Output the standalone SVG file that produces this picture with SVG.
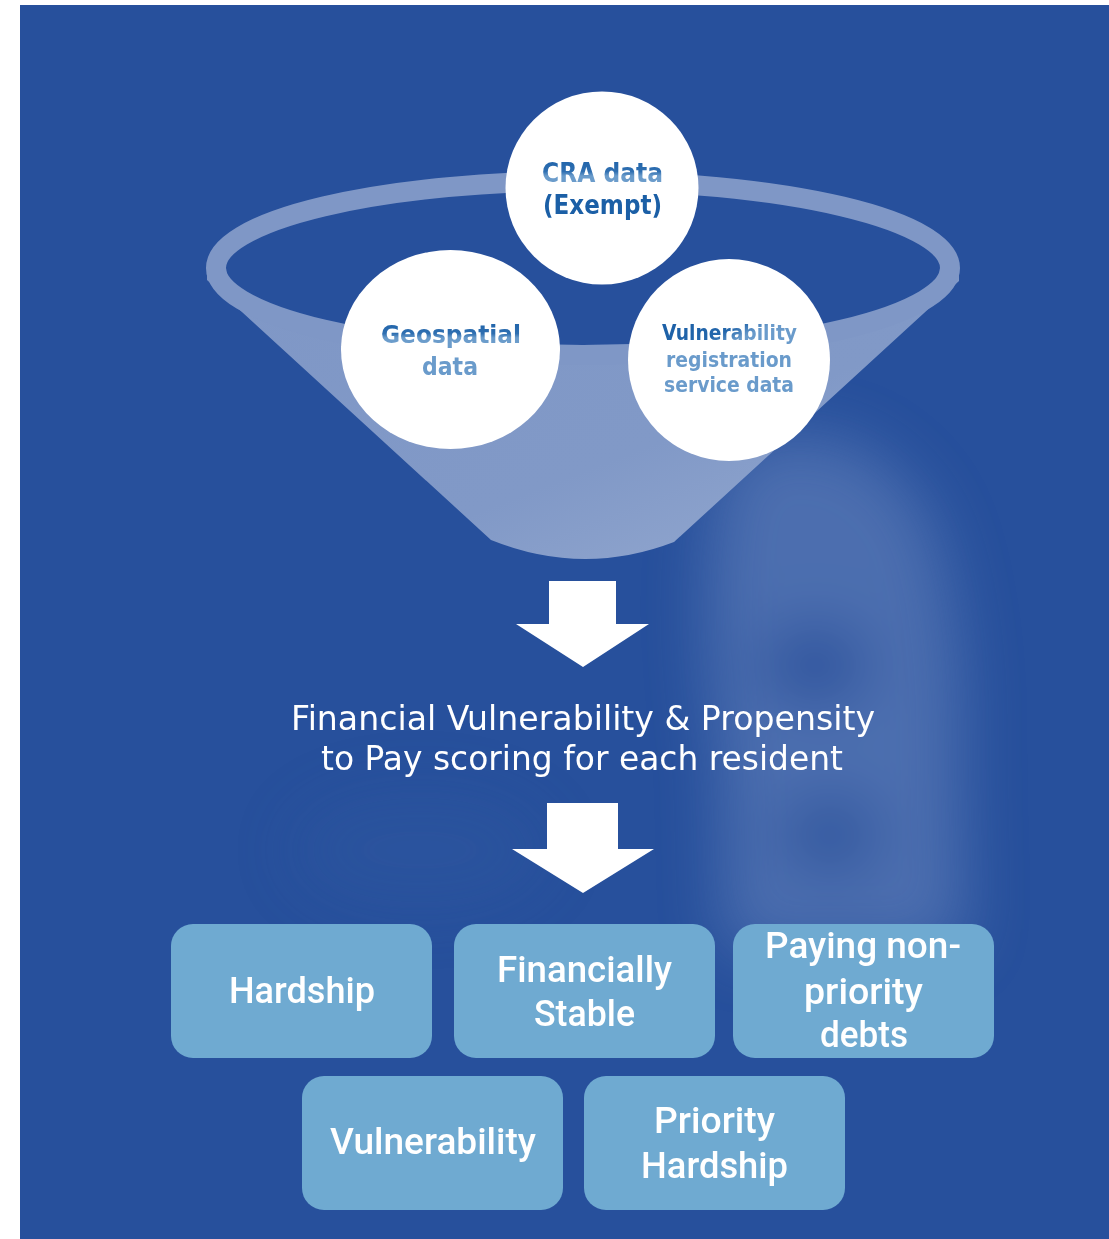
<svg xmlns="http://www.w3.org/2000/svg" width="1109" height="1239" viewBox="0 0 1109 1239">
  <defs>
    <style>
      .bg { fill: #27509c; }
      .bubble { fill: #ffffff; }
      .ctext { font-family: "DejaVu Sans", "Liberation Sans", sans-serif; font-weight: bold; text-anchor: middle; }
      .main { font-family: "DejaVu Sans", "Liberation Sans", sans-serif; fill: #ffffff; font-size: 33px; text-anchor: middle; }
      .box { fill: #6faad1; }
      .btext { font-family: Roboto, "DejaVu Sans", sans-serif; font-weight: 500; fill: #ffffff; font-size: 36px; text-anchor: middle; }
      .arrow { fill: #ffffff; }
    </style>
    <linearGradient id="gTopDark" x1="0" y1="0" x2="0" y2="1">
      <stop offset="0" stop-color="#1d62a9"/>
      <stop offset="0.45" stop-color="#2f6fb1"/>
      <stop offset="0.6" stop-color="#6b9ccb"/>
      <stop offset="1" stop-color="#6b9ccb"/>
    </linearGradient>
    <linearGradient id="gVuln" x1="0" y1="0" x2="1" y2="0.4">
      <stop offset="0" stop-color="#1b5fa6"/>
      <stop offset="0.55" stop-color="#2366ab"/>
      <stop offset="0.75" stop-color="#6a9bcb"/>
      <stop offset="1" stop-color="#6a9bcb"/>
    </linearGradient>
    <linearGradient id="gBody" x1="0" y1="0" x2="1" y2="1">
      <stop offset="0" stop-color="#7f97c6"/>
      <stop offset="0.6" stop-color="#8199c7"/>
      <stop offset="1" stop-color="#97abd1"/>
    </linearGradient>
    <filter id="blur" x="-50%" y="-50%" width="200%" height="200%">
      <feGaussianBlur stdDeviation="32"/>
    </filter>
  </defs>

  <!-- background panel -->
  <rect class="bg" x="20" y="5" width="1089" height="1234"/>

  <!-- faint glow silhouette -->
  <g filter="url(#blur)" opacity="0.45">
    <path d="M 730 450 Q 860 400 930 520 Q 965 620 960 760 L 965 950 L 725 950 L 720 760 Q 690 560 730 450 Z" fill="#7b95c8"/>
    <ellipse cx="815" cy="665" rx="55" ry="40" fill="#27509c"/>
    <ellipse cx="830" cy="835" rx="50" ry="40" fill="#30589f"/>
    <ellipse cx="420" cy="850" rx="130" ry="60" fill="#3a60a6" opacity="0.5"/>
  </g>

  <!-- funnel -->
  <g id="funnel">
    <path d="M 207 268 L 207 280 L 491 540 Q 583 577 674 542 L 959 281 L 959 268 L 940 268 A 357 77 0 0 1 226 268 Z" fill="url(#gBody)"/>
    <ellipse cx="583" cy="268" rx="367" ry="87" fill="none" stroke="#7f97c6" stroke-width="20"/>
  </g>

  <!-- data source nodes -->
  <g id="node-cra">
    <circle class="bubble" cx="602" cy="188" r="96.5"/>
    <text class="ctext" x="602.5" y="182" font-size="26" fill="url(#gTopDark)" textLength="121" lengthAdjust="spacingAndGlyphs">CRA data</text>
    <text class="ctext" x="602.5" y="214" font-size="26" fill="#1b5fa6" textLength="119" lengthAdjust="spacingAndGlyphs">(Exempt)</text>
  </g>
  <g id="node-geo">
    <ellipse class="bubble" cx="450.5" cy="349.5" rx="109.5" ry="99.5"/>
    <text class="ctext" x="451" y="343" font-size="24" fill="url(#gTopDark)" textLength="140" lengthAdjust="spacingAndGlyphs">Geospatial</text>
    <text class="ctext" x="450" y="375" font-size="24" fill="#6a9bcb" textLength="56" lengthAdjust="spacingAndGlyphs">data</text>
  </g>
  <g id="node-vuln">
    <circle class="bubble" cx="729" cy="360" r="101"/>
    <text class="ctext" x="729.5" y="340" font-size="21" fill="url(#gVuln)" textLength="135" lengthAdjust="spacingAndGlyphs">Vulnerability</text>
    <text class="ctext" x="729" y="367" font-size="21" fill="#6a9bcb" textLength="126" lengthAdjust="spacingAndGlyphs">registration</text>
    <text class="ctext" x="729" y="392" font-size="21" fill="#6a9bcb" textLength="130" lengthAdjust="spacingAndGlyphs">service data</text>
  </g>

  <!-- connectors -->
  <g id="connectors">
    <path class="arrow" d="M 549 581 L 616 581 L 616 624 L 649 624 L 583 667 L 516 624 L 549 624 Z"/>
    <path class="arrow" d="M 547 803 L 618 803 L 618 849 L 654 849 L 583 893 L 512 849 L 547 849 Z"/>
  </g>

  <!-- scoring -->
  <g id="node-scoring">
    <text class="main" x="583" y="730" textLength="584" lengthAdjust="spacingAndGlyphs">Financial Vulnerability &amp; Propensity</text>
    <text class="main" x="582" y="770" textLength="522" lengthAdjust="spacingAndGlyphs">to Pay scoring for each resident</text>
  </g>

  <!-- outcome nodes -->
  <g id="node-hardship">
    <rect class="box" x="171" y="924" width="261" height="134" rx="22"/>
    <text class="btext" x="302" y="1003" textLength="146" lengthAdjust="spacingAndGlyphs">Hardship</text>
  </g>
  <g id="node-stable">
    <rect class="box" x="454" y="924" width="261" height="134" rx="22"/>
    <text class="btext" x="584.5" y="982" textLength="175" lengthAdjust="spacingAndGlyphs">Financially</text>
    <text class="btext" x="584.5" y="1026" textLength="101" lengthAdjust="spacingAndGlyphs">Stable</text>
  </g>
  <g id="node-nonpriority">
    <rect class="box" x="733" y="924" width="261" height="134" rx="22"/>
    <text class="btext" x="863" y="958" textLength="196" lengthAdjust="spacingAndGlyphs">Paying non-</text>
    <text class="btext" x="863.5" y="1004" textLength="119" lengthAdjust="spacingAndGlyphs">priority</text>
    <text class="btext" x="864" y="1047" textLength="88" lengthAdjust="spacingAndGlyphs">debts</text>
  </g>
  <g id="node-vulnerability">
    <rect class="box" x="302" y="1076" width="261" height="134" rx="22"/>
    <text class="btext" x="433" y="1154" textLength="206" lengthAdjust="spacingAndGlyphs">Vulnerability</text>
  </g>
  <g id="node-priority-hardship">
    <rect class="box" x="584" y="1076" width="261" height="134" rx="22"/>
    <text class="btext" x="714.5" y="1133" textLength="121" lengthAdjust="spacingAndGlyphs">Priority</text>
    <text class="btext" x="714.5" y="1178" textLength="147" lengthAdjust="spacingAndGlyphs">Hardship</text>
  </g>
</svg>
